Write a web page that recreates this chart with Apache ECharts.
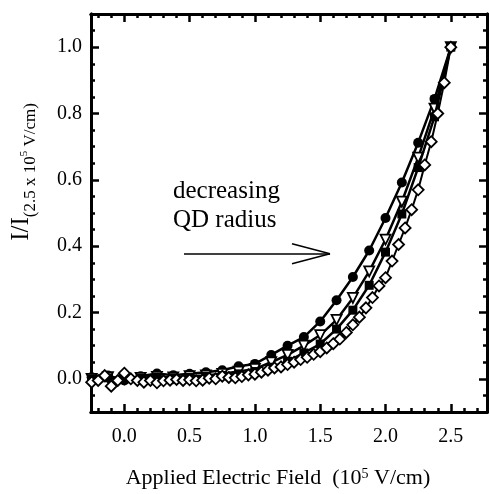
<!DOCTYPE html>
<html><head><meta charset="utf-8">
<script src="https://cdn.jsdelivr.net/npm/echarts@6/dist/echarts.min.js"></script>
<style>html,body{margin:0;padding:0;background:#fff}#c{width:490px;height:494px}</style>
</head><body><div id="c"></div>
<script>
// ---- data ----
const xCoarse = [-0.25,-0.125,0,0.125,0.25,0.375,0.5,0.625,0.75,0.875,1.0,1.125,1.25,1.375,1.5,1.625,1.75,1.875,2.0,2.125,2.25,2.375,2.5];
const yCircles   = [0.005,0.01,-0.005,0.008,0.016,0.011,0.015,0.02,0.026,0.038,0.045,0.072,0.10,0.126,0.173,0.237,0.307,0.387,0.485,0.592,0.712,0.844,1.0];
const yTriangles = [0.0,0.005,0.0,0.003,0.006,0.004,0.008,0.01,0.015,0.022,0.03,0.05,0.072,0.10,0.132,0.178,0.244,0.324,0.42,0.534,0.667,0.815,1.0];
const ySquares   = [0.0,0.003,0.0,0.002,0.004,0.003,0.005,0.007,0.01,0.015,0.022,0.035,0.053,0.078,0.105,0.15,0.207,0.282,0.382,0.497,0.637,0.79,1.0];
const xDense = [-0.25,-0.2,-0.15,-0.1,-0.05,0.0,0.05,0.1,0.15,0.2,0.25,0.3,0.35,0.4,0.45,0.5,0.55,0.6,0.65,0.7,0.75,0.8,0.85,0.9,0.95,1.0,
  1.05,1.1,1.15,1.2,1.25,1.3,1.35,1.4,1.45,1.5,1.55,1.6,1.65,1.7,1.75,1.8,1.85,1.9,1.95,2.0,
  2.05,2.1,2.15,2.2,2.25,2.3,2.35,2.4,2.45,2.5];
const yDiamonds = [-0.01,-0.005,0.01,-0.022,-0.005,0.017,0.0,-0.005,-0.01,-0.005,-0.012,-0.006,-0.004,-0.002,-0.005,-0.003,-0.006,-0.004,0.002,0.0,0.008,0.004,0.003,0.007,0.012,0.014,
  0.02,0.026,0.033,0.036,0.043,0.05,0.058,0.065,0.074,0.082,0.093,0.106,0.12,0.14,0.163,0.186,0.214,0.245,0.28,0.305,
  0.355,0.405,0.455,0.51,0.57,0.645,0.715,0.80,0.893,1.0];
const xMajorTicks = [0,0.5,1.0,1.5,2.0,2.5];
const xMinorTicks = [-0.2,-0.1,0.1,0.2,0.3,0.4,0.6,0.7,0.8,0.9,1.1,1.2,1.3,1.4,1.6,1.7,1.8,1.9,2.1,2.2,2.3,2.4,2.6,2.7];
const yMajorTicks = [0,0.2,0.4,0.6,0.8,1.0];
const yMinorTicks = [-0.05,0.05,0.1,0.15,0.25,0.3,0.35,0.45,0.5,0.55,0.65,0.7,0.75,0.85,0.9,0.95,1.05];
// annotation arrow (data coordinates)
const arrowShaft = [[0.457,0.377],[1.575,0.377]];
const arrowHeadA = [[1.284,0.407],[1.575,0.377]];
const arrowHeadB = [[1.284,0.347],[1.575,0.377]];
const annotationText = 'decreasing\nQD radius';

const FONT = '"Liberation Serif","Times New Roman",serif';
const X_MIN = -0.255, X_MAX = 2.777, Y_MIN = -0.1, Y_MAX = 1.1;

function xAx(pos, ticks, len, labels, extra) {
  return Object.assign({
    type:'value', gridIndex:0, position:pos, min:X_MIN, max:X_MAX,
    axisLine:{show:true, onZero:false, lineStyle:{color:'#000', width:3}},
    axisTick:{show:true, inside:true, length:len, customValues:ticks, lineStyle:{color:'#000', width:2.5}},
    axisLabel: labels ? {show:true, customValues:ticks, formatter:v=>v.toFixed(1), margin:15, fontFamily:FONT, fontSize:20, color:'#000'} : {show:false},
    splitLine:{show:false}
  }, extra||{});
}
function yAx(pos, ticks, len, labels) {
  return {
    type:'value', gridIndex:0, position:pos, min:Y_MIN, max:Y_MAX,
    axisLine:{show:true, onZero:false, lineStyle:{color:'#000', width:3}},
    axisTick:{show:true, inside:true, length:len, customValues:ticks, lineStyle:{color:'#000', width:2.5}},
    axisLabel: labels ? {show:true, customValues:ticks, formatter:v=>v.toFixed(1), margin:9, fontFamily:FONT, fontSize:20, color:'#000'} : {show:false},
    splitLine:{show:false}
  };
}

const chart = echarts.init(document.getElementById('c'), null, {renderer:'canvas'});
const pair = (xs, ys) => xs.map((x,i)=>[x, ys[i]]);
const seg = s => [{coord:s[0]},{coord:s[1]}];

chart.setOption({
  animation:false,
  backgroundColor:'#fff',
  grid:{left:91, right:3, top:14, bottom:80},
  xAxis:[
    xAx('bottom', xMajorTicks, 8, true, {
      name:'{n|Applied Electric Field  (10}{p|5}{n| V/cm)}',
      nameLocation:'middle', nameGap:55,
      nameTextStyle:{padding:[0,22,0,0], rich:{
        n:{fontFamily:FONT, fontSize:22, color:'#000'},
        p:{fontFamily:FONT, fontSize:14, color:'#000', verticalAlign:'top'}
      }}
    }),
    xAx('bottom', xMinorTicks, 4, false),
    xAx('top', xMajorTicks, 8, false),
    xAx('top', xMinorTicks, 4, false)
  ],
  yAxis:[
    yAx('left', yMajorTicks, 8, true),
    yAx('left', yMinorTicks, 4, false),
    yAx('right', yMajorTicks, 8, false),
    yAx('right', yMinorTicks, 4, false)
  ],
  graphic:[
    {type:'text', x:24, y:172, rotation:Math.PI/2,
      style:{text:'{a|I/I}{s|(2.5 x 10}{p|5}{s| V/cm)}', align:'center', verticalAlign:'middle',
        rich:{
          a:{fontFamily:FONT, fontSize:25, fill:'#000', padding:[0,0,6,0]},
          s:{fontFamily:FONT, fontSize:17, fill:'#000', verticalAlign:'bottom'},
          p:{fontFamily:FONT, fontSize:11, fill:'#000', verticalAlign:'bottom', padding:[0,0,10,0]}
        }}},
    {type:'text', left:173, top:177,
      style:{text:annotationText, font:'25px ' + FONT, fill:'#000', lineHeight:29}}
  ],
  series:[
    {type:'line', name:'circles', xAxisIndex:0, yAxisIndex:0, data:pair(xCoarse,yCircles),
      symbol:'circle', symbolSize:10, itemStyle:{color:'#000'}, lineStyle:{color:'#000', width:2.5}, z:2,
      markLine:{silent:true, symbol:'none', label:{show:false}, lineStyle:{color:'#000', width:1.5, type:'solid'},
        data:[seg(arrowShaft), seg(arrowHeadA), seg(arrowHeadB)]}},
    {type:'line', name:'triangles', xAxisIndex:0, yAxisIndex:0, data:pair(xCoarse,yTriangles),
      symbol:'triangle', symbolRotate:180, symbolSize:10, itemStyle:{color:'#fff', borderColor:'#000', borderWidth:1.8},
      lineStyle:{color:'#000', width:2.5}, z:3},
    {type:'line', name:'squares', xAxisIndex:0, yAxisIndex:0, data:pair(xCoarse,ySquares),
      symbol:'rect', symbolSize:9, itemStyle:{color:'#000'}, lineStyle:{color:'#000', width:2.5}, z:4},
    {type:'line', name:'diamonds', xAxisIndex:0, yAxisIndex:0, data:pair(xDense,yDiamonds),
      symbol:'diamond', symbolSize:11, itemStyle:{color:'#fff', borderColor:'#000', borderWidth:1.8},
      lineStyle:{color:'#000', width:2}, z:5}
  ]
});
</script></body></html>
